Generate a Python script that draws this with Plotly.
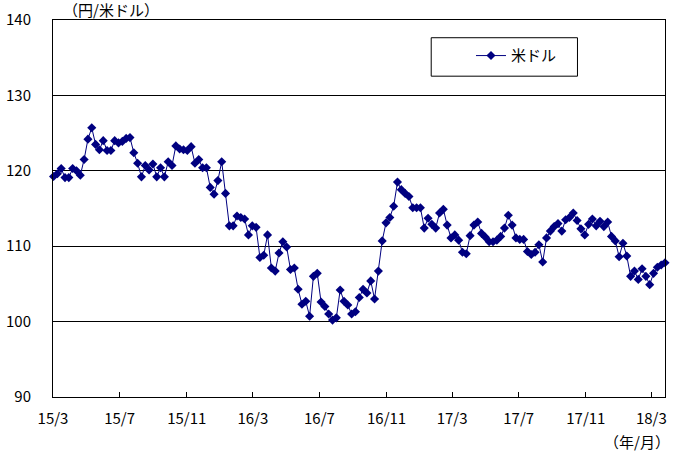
import pandas as pd
import plotly.graph_objects as go

# Weekly USD/JPY (円/米ドル), first week 2015-03-02
start_date = "2015-03-02"
usd_jpy = [
    119.25, 119.6, 120.3, 119.1, 119.1, 120.3, 120.0, 119.4, 121.5, 124.2,
    125.7, 123.5, 122.8, 124.0, 122.7, 122.7, 124.0, 123.7, 123.9, 124.3,
    124.4, 122.4, 121.0, 119.2, 120.7, 120.1, 120.9, 119.2, 120.4, 119.2,
    121.2, 120.7, 123.3, 122.9, 122.8, 122.7, 123.2, 121.0, 121.5, 120.4,
    120.4, 117.8, 116.9, 118.7, 121.2, 117.0, 112.7, 112.7, 114.0, 113.8,
    113.6, 111.5, 112.7, 112.5, 108.5, 108.8, 111.5, 107.1, 106.7, 109.1,
    110.6, 109.9, 106.9, 107.1, 104.3, 102.3, 102.7, 100.7, 106.0, 106.4,
    102.6, 102.0, 101.0, 100.2, 100.5, 104.2, 102.7, 102.2, 101.0, 101.3,
    103.2, 104.3, 103.8, 105.4, 103.0, 106.7, 110.7, 113.1, 113.8, 115.3,
    118.5, 117.5, 117.0, 116.6, 115.1, 115.1, 115.1, 112.4, 113.7, 112.9,
    112.4, 114.4, 114.9, 112.8, 111.1, 111.5, 110.8, 109.2, 109.0, 111.4,
    112.8, 113.2, 111.7, 111.2, 110.6, 110.6, 110.8, 111.3, 112.4, 114.1,
    112.8, 111.1, 110.9, 110.9, 109.3, 108.9, 109.2, 110.2, 107.9, 111.1,
    112.0, 112.6, 113.0, 112.0, 113.5, 113.8, 114.4, 113.4, 112.3, 111.5,
    112.9, 113.6, 112.7, 113.3, 112.6, 113.2, 111.3, 110.7, 108.6, 110.4,
    108.7, 106.0, 106.7, 105.6, 107.0, 106.0, 104.9, 106.4, 107.2, 107.5,
    107.8,
]
dates = pd.date_range(start=start_date, periods=len(usd_jpy), freq="7D")

tick_vals = ["2015-03-01", "2015-07-01", "2015-11-01", "2016-03-01", "2016-07-01",
             "2016-11-01", "2017-03-01", "2017-07-01", "2017-11-01", "2018-03-01"]
tick_text = ["15/3", "15/7", "15/11", "16/3", "16/7", "16/11", "17/3", "17/7", "17/11", "18/3"]
y_ticks = [90, 100, 110, 120, 130, 140]

FONT = "Noto Sans CJK JP"
NAVY = "#000080"

fig = go.Figure()
fig.add_trace(go.Scatter(
    x=dates, y=usd_jpy, mode="lines+markers", name="米ドル",
    line=dict(color=NAVY, width=1),
    marker=dict(symbol="diamond", size=7, color=NAVY),
    cliponaxis=False,
))

fig.update_layout(
    width=677, height=462,
    margin=dict(l=53, r=12, t=20, b=65, autoexpand=False),
    paper_bgcolor="white", plot_bgcolor="white",
    font=dict(family=FONT, size=14, color="black"),
    showlegend=True,
    legend=dict(x=0.683, y=0.905, xanchor="left", yanchor="middle",
                bgcolor="rgba(0,0,0,0)", borderwidth=0,
                font=dict(family=FONT, size=15), itemwidth=30),
    xaxis=dict(
        range=["2015-03-01", "2018-03-26"],
        tickvals=tick_vals, ticktext=tick_text,
        showgrid=False, showline=True, linecolor="black", linewidth=1,
        mirror=True, ticks="inside", ticklen=5, tickcolor="black",
        tickfont=dict(family=FONT, size=15), zeroline=False, automargin=False,
        ticklabelstandoff=8,
    ),
    yaxis=dict(
        range=[90, 140], tickvals=y_ticks,
        showgrid=True, gridcolor="black", gridwidth=1,
        showline=True, linecolor="black", linewidth=1, mirror=True,
        ticks="", tickfont=dict(family=FONT, size=15),
        ticklabelstandoff=18, zeroline=False, automargin=False,
    ),
    shapes=[dict(type="rect", xref="paper", yref="paper",
                 x0=0.618, x1=0.857, y0=0.851, y1=0.953,
                 line=dict(color="black", width=1), fillcolor="rgba(0,0,0,0)")],
    annotations=[
        dict(text="（円/米ドル）", xref="paper", yref="paper", x=0.013, y=1.029,
             xanchor="left", yanchor="middle", showarrow=False,
             font=dict(family=FONT, size=15)),
        dict(text="（年/月）", xref="paper", yref="paper", x=1.011, y=-0.119,
             xanchor="right", yanchor="middle", showarrow=False,
             font=dict(family=FONT, size=15)),
    ],
)

fig.write_html("out.html", config={"displayModeBar": False},
               post_script="document.body.style.margin='0';")
